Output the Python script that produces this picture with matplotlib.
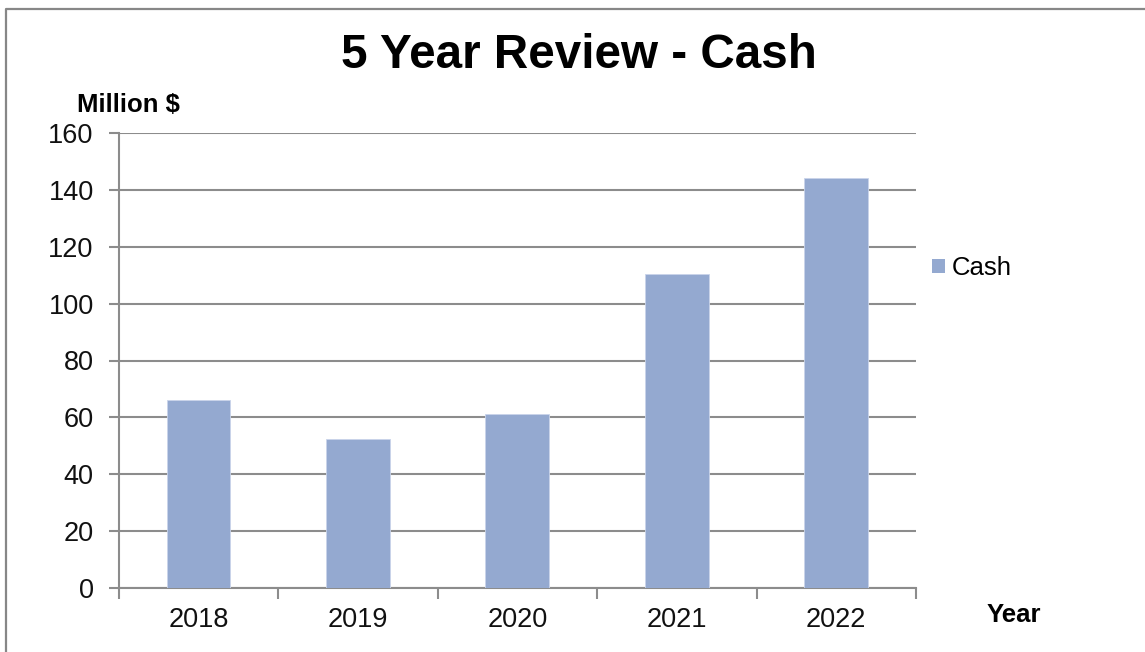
import matplotlib
matplotlib.use("Agg")
import matplotlib.pyplot as plt
from matplotlib.patches import Patch
from matplotlib.lines import Line2D

years = ["2018", "2019", "2020", "2021", "2022"]
cash = [66.0, 52.5, 61.3, 110.5, 144.4]
y_ticks = [0, 20, 40, 60, 80, 100, 120, 140, 160]

BAR = "#94a9d0"
GRID = "#8c8c8c"
FONT = "Liberation Sans"

W, H = 1145, 652
fig = plt.figure(figsize=(W / 100, H / 100), dpi=100)
fig.patch.set_facecolor("white")

# outer chart border (left and top edges visible)
fig.add_artist(Line2D([6 / W, 6 / W, 1.0], [0.0, 1 - 8.5 / H, 1 - 8.5 / H],
                      transform=fig.transFigure, color="#878787", lw=1.6))

left, right = 118.7 / W, 916 / W
bottom, top = 1 - 587.7 / H, 1 - 133.3 / H
ax = fig.add_axes([left, bottom, right - left, top - bottom])

x = list(range(len(years)))
ax.bar(x, cash, width=0.4, color=BAR, edgecolor="#c9d4ea", linewidth=0.6, zorder=3)

ax.set_xlim(-0.5, len(years) - 0.5)
ax.set_ylim(0, 160)
ax.set_yticks(y_ticks)
ax.set_yticklabels([str(v) for v in y_ticks])
ax.yaxis.grid(True, color=GRID, lw=1.5, zorder=0)

# category labels centred under bars, tick marks on category boundaries
ax.set_xticks(x)
ax.set_xticklabels(years)
ax.set_xticks([i - 0.5 for i in range(len(years) + 1)], minor=True)
ax.tick_params(axis="x", which="major", length=0, pad=14)
ax.tick_params(axis="x", which="minor", length=8, width=1.5, color=GRID)
ax.tick_params(axis="y", length=7, width=1.5, color=GRID, pad=11)

for lab in ax.get_xticklabels() + ax.get_yticklabels():
    lab.set_fontfamily(FONT)
    lab.set_fontsize(19.5)
    lab.set_color("#111111")

for side in ("top", "right"):
    ax.spines[side].set_visible(False)
for side in ("left", "bottom"):
    ax.spines[side].set_color(GRID)
    ax.spines[side].set_linewidth(1.5)

fig.text(578.5 / W, 1 - 55 / H, "5 Year Review - Cash", ha="center", va="center",
         fontfamily=FONT, fontweight="bold", fontsize=34.3, color="black")
fig.text(77 / W, 1 - 112 / H, "Million $", ha="left", va="baseline",
         fontfamily=FONT, fontweight="bold", fontsize=18.5, color="black")
fig.text(987 / W, 1 - 622 / H, "Year", ha="left", va="baseline",
         fontfamily=FONT, fontweight="bold", fontsize=18.5, color="black")

fig.legend(handles=[Patch(facecolor=BAR, edgecolor="none", label="Cash")],
           loc="center left", bbox_to_anchor=(932 / W, 1 - 268 / H),
           frameon=False, borderpad=0, borderaxespad=0,
           handlelength=0.5, handleheight=0.5,
           handletextpad=0.25, prop={"family": FONT, "size": 18.5})

fig.savefig("out.png", dpi=100)
